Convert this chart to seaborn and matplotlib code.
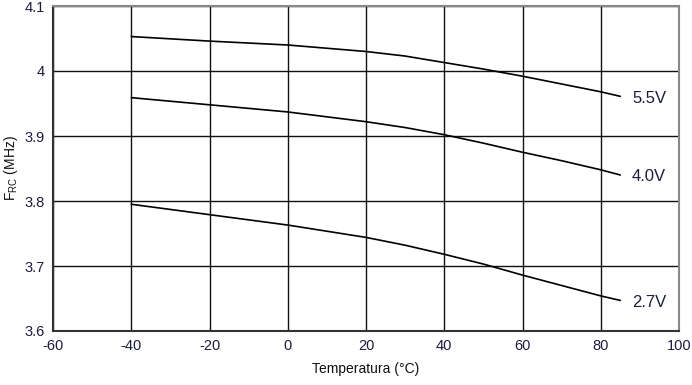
import numpy as np
import pandas as pd
import seaborn as sns
import matplotlib.pyplot as plt

temps = [-40, -20, 0, 20, 30, 40, 50, 60, 70, 80, 85]
f_55 = [4.053, 4.046, 4.040, 4.030, 4.023, 4.013, 4.003, 3.992, 3.980, 3.968, 3.961]
f_40 = [3.959, 3.948, 3.937, 3.922, 3.913, 3.902, 3.889, 3.875, 3.862, 3.848, 3.840]
f_27 = [3.795, 3.779, 3.763, 3.744, 3.732, 3.718, 3.703, 3.686, 3.670, 3.654, 3.647]
series = ["5.5V", "4.0V", "2.7V"]

x_ticks = [-60, -40, -20, 0, 20, 40, 60, 80, 100]
y_ticks = [3.6, 3.7, 3.8, 3.9, 4.0, 4.1]
y_tick_labels = ["3.6", "3.7", "3.8", "3.9", "4", "4.1"]


def main():
    sns.set_style("white")
    plt.rcParams["font.family"] = ["Liberation Sans", "DejaVu Sans"]
    plt.rcParams["axes.unicode_minus"] = False

    df = pd.concat([
        pd.DataFrame({"temp": temps, "freq": vals, "supply": name})
        for name, vals in zip(series, [f_55, f_40, f_27])
    ])

    fig = plt.figure(figsize=(6.92, 3.85), dpi=100)
    ax = fig.add_axes([53 / 692, 54 / 385, 626 / 692, 325 / 385])

    sns.lineplot(
        data=df,
        x="temp",
        y="freq",
        hue="supply",
        palette=["black"] * 3,
        linewidth=1.2,
        legend=False,
        ax=ax,
    )

    ax.set_xlim(-60, 100)
    ax.set_ylim(3.6, 4.1)
    ax.set_xticks(x_ticks)
    ax.set_yticks(y_ticks)
    ax.set_yticklabels(y_tick_labels)
    ax.grid(True, color="#111111", linewidth=1.0)
    ax.tick_params(length=0, labelsize=10.5, labelcolor="#1c1c3c", pad=6)

    ax.set_xlabel("Temperatura (°C)", fontsize=10, color="#111111", labelpad=6)
    ax.set_ylabel(r"$\mathregular{F_{RC}}$ (MHz)", fontsize=10, color="#111111", labelpad=3)

    for side in ["left", "bottom"]:
        ax.spines[side].set_color("#333333")
        ax.spines[side].set_linewidth(1.5)
    for side in ["top", "right"]:
        ax.spines[side].set_color("#888888")
        ax.spines[side].set_linewidth(1.5)

    # labels at the right end of each curve
    for name, vals in zip(series, [f_55, f_40, f_27]):
        ax.text(88, vals[-1] - 0.003, name, fontsize=12, color="#1c1c3c", va="center", ha="left")

    fig.savefig("out.png", dpi=100)
    plt.close()


if __name__ == "__main__":
    main()
